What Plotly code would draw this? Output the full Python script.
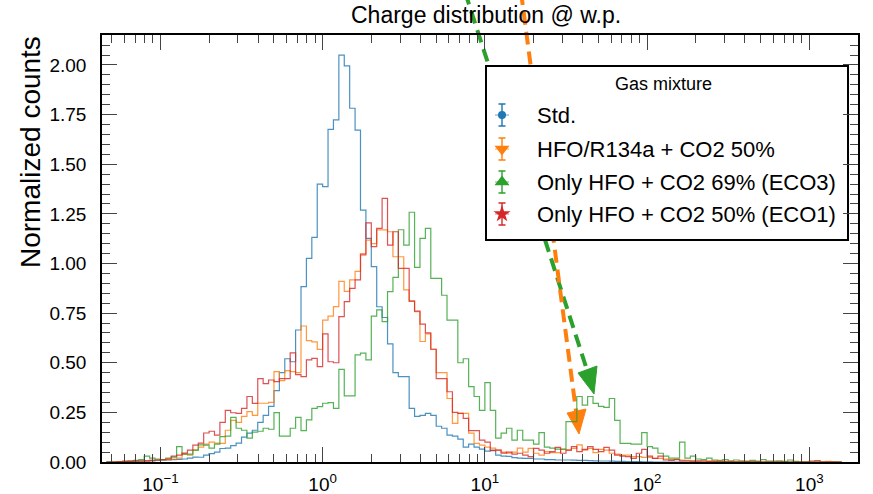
import plotly.graph_objects as go

# ---------------- data (log-binned histograms, 30 bins / decade) ----------------
K_START = -40          # first bin starts at 10**(K_START/30)
BINS_PER_DECADE = 30

STD = [
    0, 0, 0.002, 0.002, 0.003, 0.004, 0.004, 0.006, 0.006, 0.008,
    0.01, 0.01, 0.012, 0.013, 0.015, 0.02, 0.025, 0.024, 0.035, 0.042,
    0.05, 0.068, 0.07, 0.082, 0.095, 0.125, 0.145, 0.16, 0.2, 0.235,
    0.28, 0.36, 0.45, 0.52, 0.505, 0.665, 0.883, 1.026, 1.132, 1.40,
    1.387, 1.676, 1.723, 2.05, 1.995, 1.782, 1.672, 1.269, 1.127, 0.984,
    0.782, 0.728, 0.595, 0.45, 0.43, 0.43, 0.27, 0.23, 0.235, 0.245,
    0.235, 0.18, 0.17, 0.135, 0.13, 0.115, 0.075, 0.09, 0.075, 0.065,
    0.055, 0.06, 0.035, 0.03, 0.028, 0.022, 0.02, 0.018, 0.018, 0.015,
    0.015, 0.012, 0.012, 0.01, 0.01, 0.01, 0.009, 0.008, 0.008, 0.007,
    0.006, 0.005, 0.005, 0.004, 0.003, 0.003, 0.002, 0.002, 0.002, 0.001,
    0.001, 0, 0, 0, 0, 0, 0, 0, 0, 0,
    0, 0, 0, 0, 0, 0, 0, 0, 0, 0,
    0, 0, 0, 0, 0, 0, 0, 0, 0, 0,
    0, 0, 0, 0, 0, 0,
]

HFO_R134A = [
    0, 0, 0, 0.003, 0.004, 0.005, 0.005, 0.006, 0.008, 0.01,
    0.01, 0.012, 0.015, 0.02, 0.04, 0.035, 0.06, 0.075, 0.09, 0.1,
    0.095, 0.094, 0.16, 0.21, 0.2, 0.23, 0.254, 0.235, 0.296, 0.296,
    0.3, 0.455, 0.41, 0.46, 0.455, 0.45, 0.685, 0.611, 0.605, 0.567,
    0.715, 0.735, 0.783, 0.91, 0.86, 0.917, 0.96, 1.05, 1.118, 1.10,
    1.169, 1.169, 1.16, 1.034, 1.034, 0.867, 0.81, 0.757, 0.607, 0.645,
    0.568, 0.45, 0.45, 0.32, 0.195, 0.245, 0.245, 0.145, 0.094, 0.085,
    0.075, 0.07, 0.06, 0.05, 0.045, 0.05, 0.07, 0.05, 0.069, 0.044,
    0.035, 0.052, 0.047, 0.047, 0.064, 0.06, 0.069, 0.086, 0.06, 0.069,
    0.047, 0.064, 0.06, 0.044, 0.04, 0.035, 0.035, 0.027, 0.027, 0.023,
    0.023, 0.018, 0.018, 0.015, 0.012, 0.013, 0.01, 0.008, 0.006, 0.006,
    0.005, 0.004, 0.004, 0.003, 0.003, 0.002, 0.002, 0.002, 0.001, 0.002,
    0.001, 0.001, 0, 0.001, 0, 0.001, 0, 0, 0.001, 0,
    0, 0, 0, 0.003, 0.002, 0,
]

ECO3 = [
    0, 0, 0, 0.003, 0.005, 0.008, 0.012, 0.03, 0.02, 0.015,
    0.012, 0.02, 0.025, 0.077, 0.04, 0.04, 0.06, 0.086, 0.085, 0.07,
    0.09, 0.128, 0.13, 0.225, 0.17, 0.16, 0.12, 0.15, 0.155, 0.17,
    0.165, 0.249, 0.13, 0.13, 0.17, 0.225, 0.158, 0.212, 0.27, 0.279,
    0.296, 0.299, 0.27, 0.467, 0.333, 0.333, 0.54, 0.548, 0.514, 0.735,
    0.766, 0.707, 0.858, 0.93, 1.17, 1.093, 1.258, 0.98, 1.127, 1.177,
    0.925, 0.925, 0.84, 0.715, 0.715, 0.50, 0.52, 0.38, 0.33, 0.26,
    0.40, 0.26, 0.12, 0.145, 0.17, 0.11, 0.16, 0.11, 0.11, 0.09,
    0.148, 0.075, 0.07, 0.065, 0.065, 0.203, 0.203, 0.33, 0.287, 0.33,
    0.295, 0.28, 0.275, 0.32, 0.21, 0.094, 0.094, 0.09, 0.09, 0.148,
    0.077, 0.07, 0.044, 0.03, 0.02, 0.02, 0.1, 0.02, 0.03, 0.015,
    0.012, 0.02, 0.01, 0.008, 0.012, 0.006, 0.01, 0.006, 0.005, 0.008,
    0.004, 0.012, 0.005, 0.004, 0.006, 0.003, 0.01, 0.003, 0, 0,
    0, 0, 0, 0, 0, 0,
]

ECO1 = [
    0, 0, 0.002, 0.003, 0.003, 0.004, 0.005, 0.006, 0.008, 0.01,
    0.012, 0.015, 0.03, 0.035, 0.045, 0.06, 0.085, 0.095, 0.146, 0.155,
    0.135, 0.2, 0.26, 0.248, 0.245, 0.27, 0.33, 0.295, 0.42, 0.395,
    0.413, 0.405, 0.42, 0.42, 0.55, 0.44, 0.43, 0.514, 0.522, 0.48,
    0.645, 0.505, 0.50, 0.732, 0.808, 0.875, 0.917, 1.043, 1.205, 1.085,
    1.177, 1.328, 1.093, 1.16, 0.975, 0.975, 0.81, 0.76, 0.695, 0.65,
    0.568, 0.42, 0.42, 0.354, 0.25, 0.245, 0.22, 0.158, 0.158, 0.11,
    0.10, 0.057, 0.06, 0.045, 0.05, 0.04, 0.044, 0.035, 0.027, 0.069,
    0.06, 0.044, 0.052, 0.074, 0.044, 0.06, 0.077, 0.052, 0.064, 0.077,
    0.064, 0.052, 0.074, 0.06, 0.035, 0.03, 0.027, 0.018, 0.044, 0.064,
    0.03, 0.018, 0.03, 0.01, 0.008, 0.012, 0.006, 0.005, 0.004, 0.004,
    0.005, 0.003, 0.003, 0.002, 0.002, 0.002, 0.001, 0.001, 0.002, 0.001,
    0.001, 0, 0.001, 0, 0.001, 0, 0, 0, 0, 0,
    0.005, 0.007, 0, 0, 0, 0,
]

SERIES = [STD, HFO_R134A, ECO3, ECO1]
LABELS = ["Std.", "HFO/R134a + CO2 50%", "Only HFO + CO2 69% (ECO3)", "Only HFO + CO2 50% (ECO1)"]
COLORS = ["#1f77b4", "#ff7f0e", "#2ca02c", "#d62728"]
SYMBOLS = ["circle", "triangle-down", "triangle-up", "star"]
MSIZES = [8, 13, 13, 13]

X_TICKVALS = [0.1, 1, 10, 100, 1000]
X_TICKTEXT = ["10<sup>\u22121</sup>", "10<sup>0</sup>", "10<sup>1</sup>", "10<sup>2</sup>", "10<sup>3</sup>"]
Y_TICKVALS = [0, 0.25, 0.5, 0.75, 1.0, 1.25, 1.5, 1.75, 2.0]

TITLE = "Charge distribution @ w.p."
Y_TITLE = "Normalized counts"
LEGEND_TITLE = "Gas mixture"

# ---------------- geometry helpers (pixel -> paper) ----------------
W, H = 873, 494
L, R, T, B = 102, 15, 35, 32
PW, PH = W - L - R, H - T - B


def px(x):
    return (x - L) / PW


def py(y):
    return (H - B - y) / PH


fig = go.Figure()

n = len(STD)
edges = [10 ** ((K_START + i) / BINS_PER_DECADE) for i in range(n + 1)]

for vals, col in zip(SERIES, COLORS):
    fig.add_trace(go.Scatter(
        x=edges, y=list(vals) + [vals[-1]], mode="lines",
        line=dict(color=col, width=1.2, shape="hv"), opacity=0.8,
        showlegend=False, hoverinfo="skip"))

# legend markers (drawn on an invisible pixel-unit overlay axis)
LEG_ROWS = [115, 149, 182, 214]
for i in range(4):
    fig.add_trace(go.Scatter(
        x=[502], y=[LEG_ROWS[i]], xaxis="x2", yaxis="y2", mode="markers",
        marker=dict(symbol=SYMBOLS[i], size=MSIZES[i], color=COLORS[i], line=dict(width=0)),
        error_y=dict(type="constant", value=11, thickness=1.4, width=3.5, color=COLORS[i]),
        error_x=dict(type="constant", value=7, thickness=0.7, width=0, color=COLORS[i]),
        showlegend=False, hoverinfo="skip"))

minor_x = [m * 10 ** d for d in range(-2, 4) for m in range(2, 10)]
minor_x = [v for v in minor_x if 0.0437 < v < 1995]

tickfont = dict(family="Liberation Sans, Arial, sans-serif", size=19, color="black")

fig.update_layout(
    width=W, height=H,
    margin=dict(l=L, r=R, t=T, b=B, autoexpand=False),
    paper_bgcolor="white", plot_bgcolor="white",
    showlegend=False,
    xaxis=dict(type="log", range=[-1.36, 3.30], tickvals=X_TICKVALS, ticktext=X_TICKTEXT,
               ticks="inside", ticklen=15, tickwidth=1.2, tickcolor="#444", automargin=False,
               showline=True, linecolor="black", linewidth=1.5, mirror="allticks",
               showgrid=False, zeroline=False, tickfont=tickfont, ticklabelstandoff=4,
               minor=dict(tickvals=minor_x, ticks="inside", ticklen=8, tickwidth=1.2,
                          tickcolor="#444", showgrid=False)),
    yaxis=dict(range=[0, 2.151], tickvals=Y_TICKVALS, tickformat=".2f",
               ticks="inside", ticklen=15, tickwidth=1.2, tickcolor="#444", automargin=False,
               showline=True, linecolor="black", linewidth=1.5, mirror="allticks",
               showgrid=False, zeroline=False, tickfont=tickfont, ticklabelstandoff=10,
               minor=dict(dtick=0.05, ticks="inside", ticklen=8, tickwidth=1.2,
                          tickcolor="#444", showgrid=False)),
    xaxis2=dict(overlaying="x", anchor="y2", range=[L, W - R], visible=False, automargin=False),
    yaxis2=dict(overlaying="y", anchor="x2", range=[H - B, T], visible=False, automargin=False),
)

shapes = []
# dashed arrows (drawn beneath the legend box)
for (x0, y0, x1, y1, tip, b1, b2, col) in [
    (465, -8, 587, 370, (594, 394), (578, 373), (597, 366), "#2ca02c"),
    (521, -8, 576, 411, (579, 434), (567, 413), (586, 409), "#ff7f0e"),
]:
    shapes.append(dict(type="line", xref="paper", yref="paper", layer="below",
                       x0=px(x0), y0=py(y0), x1=px(x1), y1=py(y1),
                       line=dict(color=col, width=4, dash="13px,7px")))
    path = "M {} {} L {} {} L {} {} Z".format(px(tip[0]), py(tip[1]), px(b1[0]), py(b1[1]),
                                              px(b2[0]), py(b2[1]))
    shapes.append(dict(type="path", xref="paper", yref="paper", layer="below", path=path,
                       fillcolor=col, line=dict(color=col, width=1)))
# legend box
shapes.append(dict(type="rect", xref="paper", yref="paper", layer="below",
                   x0=px(486), x1=px(848), y0=py(240), y1=py(66),
                   fillcolor="white", line=dict(color="black", width=2)))
fig.update_layout(shapes=shapes)

font_main = "Liberation Sans, Arial, sans-serif"
ann = [
    dict(text=TITLE, x=px(486), y=py(15), xref="paper", yref="paper", showarrow=False,
         xanchor="center", yanchor="middle", font=dict(family=font_main, size=23, color="black")),
    dict(text=Y_TITLE, x=px(30), y=py(34), xref="paper", yref="paper", showarrow=False,
         textangle=-90, xanchor="center", yanchor="top",
         font=dict(family=font_main, size=28, color="black")),
    dict(text=LEGEND_TITLE, x=px(663), y=py(84), xref="paper", yref="paper", showarrow=False,
         xanchor="center", yanchor="middle", font=dict(family=font_main, size=18, color="black")),
]
for i, lab in enumerate(LABELS):
    ann.append(dict(text=lab, x=px(535), y=py(LEG_ROWS[i]), xref="paper", yref="paper",
                    showarrow=False, xanchor="left", yanchor="middle",
                    font=dict(family=font_main, size=22, color="black")))
fig.update_layout(annotations=ann)

fig.write_html("out.html")
